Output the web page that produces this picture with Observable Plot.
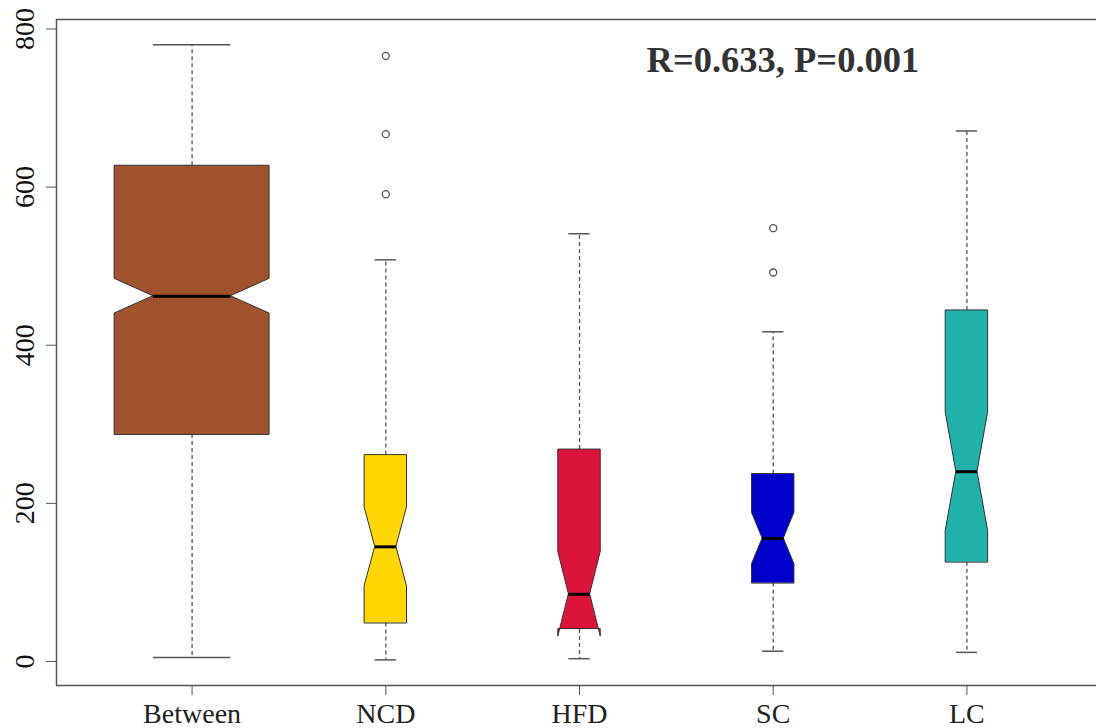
<!DOCTYPE html>
<html>
<head>
<meta charset="utf-8">
<script src="https://cdn.jsdelivr.net/npm/d3@7"></script>
<script src="https://cdn.jsdelivr.net/npm/@observablehq/plot@0.6"></script>
<style>
  html, body { margin: 0; padding: 0; background: #fff; }
  #chart svg { display: block; }
  #chart svg text { font-family: "Liberation Serif", "Times New Roman", serif; }
</style>
</head>
<body>
<div id="chart"></div>
<script>
// ---- data ----
const groups = ["Between", "NCD", "HFD", "SC", "LC"];
const colors = ["#A0522D", "#FFD700", "#DC143C", "#0000CD", "#20B2AA"];
const sizes = [600, 45, 45, 45, 45];               // number of distances per group
const lowerWhisker = [5, 2, 3.5, 13, 11.5];
const q1 = [287, 48.5, 40.5, 99, 125.5];
const medians = [462, 145, 85, 155.5, 240];
const q3 = [627, 261, 268, 237, 444];
const upperWhisker = [780, 508, 541, 417, 671];
const outliers = [[], [591, 667, 766], [], [492, 548], []];
const yTicks = [0, 200, 400, 600, 800];
const statLabel = "R=0.633, P=0.001";

// ---- derived (as R's boxplot(notch=TRUE, varwidth=TRUE) does) ----
const maxN = d3.max(sizes);
const boxes = groups.map((g, i) => {
  const w = 0.8 * Math.sqrt(sizes[i] / maxN);      // full box width
  const notch = 1.58 * (q3[i] - q1[i]) / Math.sqrt(sizes[i]);
  return {
    group: g, i, x: i + 1, w, color: colors[i],
    lo: lowerWhisker[i], q1: q1[i], med: medians[i], q3: q3[i], hi: upperWhisker[i],
    cLo: medians[i] - notch, cHi: medians[i] + notch
  };
});
// polygon points for each notched box (same vertex order as R's bxp)
const boxPoly = boxes.flatMap(b => [
  {group: b.group, y: b.q1,  x1: b.x - b.w / 2, x2: b.x + b.w / 2},
  {group: b.group, y: b.cLo, x1: b.x - b.w / 2, x2: b.x + b.w / 2},
  {group: b.group, y: b.med, x1: b.x - b.w / 4, x2: b.x + b.w / 4},
  {group: b.group, y: b.cHi, x1: b.x - b.w / 2, x2: b.x + b.w / 2},
  {group: b.group, y: b.q3,  x1: b.x - b.w / 2, x2: b.x + b.w / 2}
]);
const outPts = boxes.flatMap(b => outliers[b.i].map(v => ({x: b.x, y: v})));

const xDomain = [0.3, 5.669];
const yDomain = [-30.4, 812];
const serif = "Liberation Serif";

const chart = Plot.plot({
  width: 1096,
  height: 728,
  marginLeft: 56,
  marginRight: 0,
  marginTop: 19,
  marginBottom: 43,
  style: {fontFamily: serif, background: "#fff", color: "#111"},
  x: {domain: xDomain, axis: null},
  y: {domain: yDomain, axis: null},
  color: {domain: groups, range: colors},
  marks: [
    // whiskers (dashed)
    Plot.ruleX(boxes, {x: "x", y1: "q3", y2: "hi", stroke: "#555", strokeWidth: 1.3, strokeDasharray: "4,3"}),
    Plot.ruleX(boxes, {x: "x", y1: "q1", y2: "lo", stroke: "#555", strokeWidth: 1.3, strokeDasharray: "4,3"}),
    // staples
    Plot.ruleY(boxes, {y: "hi", x1: d => d.x - d.w / 4, x2: d => d.x + d.w / 4, stroke: "#555", strokeWidth: 1.5}),
    Plot.ruleY(boxes, {y: "lo", x1: d => d.x - d.w / 4, x2: d => d.x + d.w / 4, stroke: "#555", strokeWidth: 1.5}),
    // notched boxes
    Plot.areaX(boxPoly, {y: "y", x1: "x1", x2: "x2", z: "group", fill: "group", stroke: "#333", strokeWidth: 1, fillOpacity: 1}),
    // medians
    Plot.ruleY(boxes, {y: "med", x1: d => d.x - d.w / 4, x2: d => d.x + d.w / 4, stroke: "#000", strokeWidth: 3}),
    // outliers
    Plot.dot(outPts, {x: "x", y: "y", r: 3.5, stroke: "#555", strokeWidth: 1.3, fill: "none"}),
    // frame (top, bottom, left; right side lies outside the picture)
    Plot.ruleY([yDomain[0], yDomain[1]], {stroke: "#555", strokeWidth: 1.5}),
    Plot.ruleX([xDomain[0]], {stroke: "#555", strokeWidth: 1.5}),
    // axes
    Plot.axisY({ticks: yTicks, tickSize: 10, tickPadding: 13, tickRotate: -90, fontSize: 28, fontFamily: serif, stroke: "#555", fill: "#111"}),
    Plot.axisX({ticks: groups.map((g, i) => i + 1), tickFormat: v => groups[v - 1], tickSize: 10, tickPadding: 8, fontSize: 28, fontFamily: serif, stroke: "#555", fill: "#222"}),
    // statistic annotation
    Plot.text([statLabel], {x: 4.05, y: 761, text: d => d, fontSize: 36.5, fontFamily: serif, fontWeight: "bold", fill: "#333", textAnchor: "middle", lineAnchor: "middle"})
  ]
});
document.getElementById("chart").appendChild(chart);
</script>
</body>
</html>
